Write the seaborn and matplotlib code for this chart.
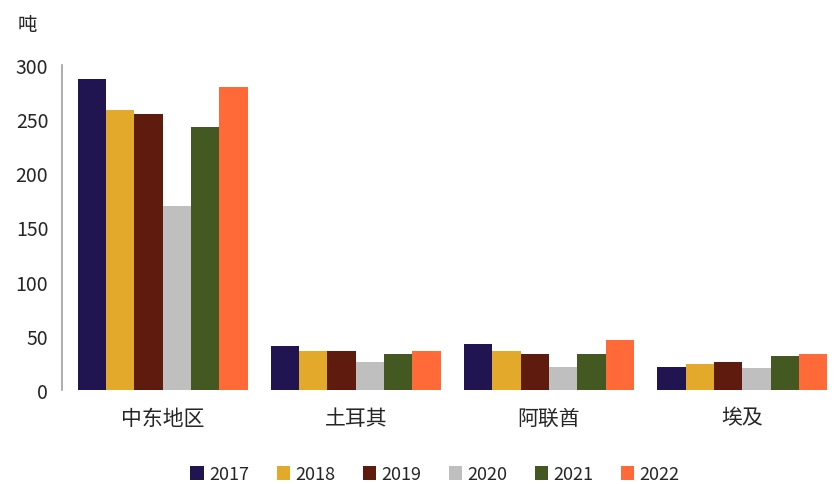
import numpy as np
import pandas as pd
import matplotlib
matplotlib.use('Agg')
import matplotlib.pyplot as plt
import seaborn as sns

# 数据
regions = ['中东地区', '土耳其', '阿联酋', '埃及']
years = ['2017', '2018', '2019', '2020', '2021', '2022']
v2017 = [287, 41, 42.5, 21]
v2018 = [258.5, 36, 36, 24]
v2019 = [255, 36, 33, 26]
v2020 = [170, 25.5, 21, 20.5]
v2021 = [243, 33, 33, 31]
v2022 = [280, 36, 46, 33]
colors = ['#211551', '#E3A92A', '#5F1C0E', '#BFBFBF', '#445821', '#FF6A38']

rows = []
for yr, vals in zip(years, [v2017, v2018, v2019, v2020, v2021, v2022]):
    for r, v in zip(regions, vals):
        rows.append({'region': r, 'year': yr, 'value': v})
df = pd.DataFrame(rows)

sns.set_style('white')
plt.rcParams['font.family'] = ['Noto Sans CJK SC', 'DejaVu Sans']

fig = plt.figure(figsize=(8.4, 4.85), dpi=100)
ax = fig.add_axes([0.074, 0.194, 0.920, 0.670])

sns.barplot(data=df, x='region', y='value', hue='year', order=regions, hue_order=years,
            palette=colors, width=0.88, linewidth=0, saturation=1, ax=ax, errorbar=None)

ax.set_ylim(0, 300)
ax.set_yticks(np.arange(0, 301, 50))
ax.set_xlim(-0.52, 3.48)
ax.set_xlabel('')
ax.set_ylabel('')
for s in ['top', 'right', 'bottom']:
    ax.spines[s].set_visible(False)
ax.spines['left'].set_color('#A0A0A0')
ax.spines['left'].set_linewidth(1.2)
ax.tick_params(axis='y', which='major', direction='out', length=6, width=1.2,
               color='#A0A0A0', labelsize=14, pad=4)
ax.tick_params(axis='x', length=0, labelsize=15, pad=12)

fig.text(0.032, 0.948, '吨', fontsize=14, ha='center', va='center')

handles, labels = ax.get_legend_handles_labels()
ax.get_legend().remove()
fig.legend(handles, labels, loc='center', bbox_to_anchor=(0.518, 0.02), ncol=6, frameon=False,
           fontsize=13, handlelength=0.75, handleheight=0.75, handletextpad=0.3,
           columnspacing=1.5)

plt.savefig('out.png', dpi=100)
